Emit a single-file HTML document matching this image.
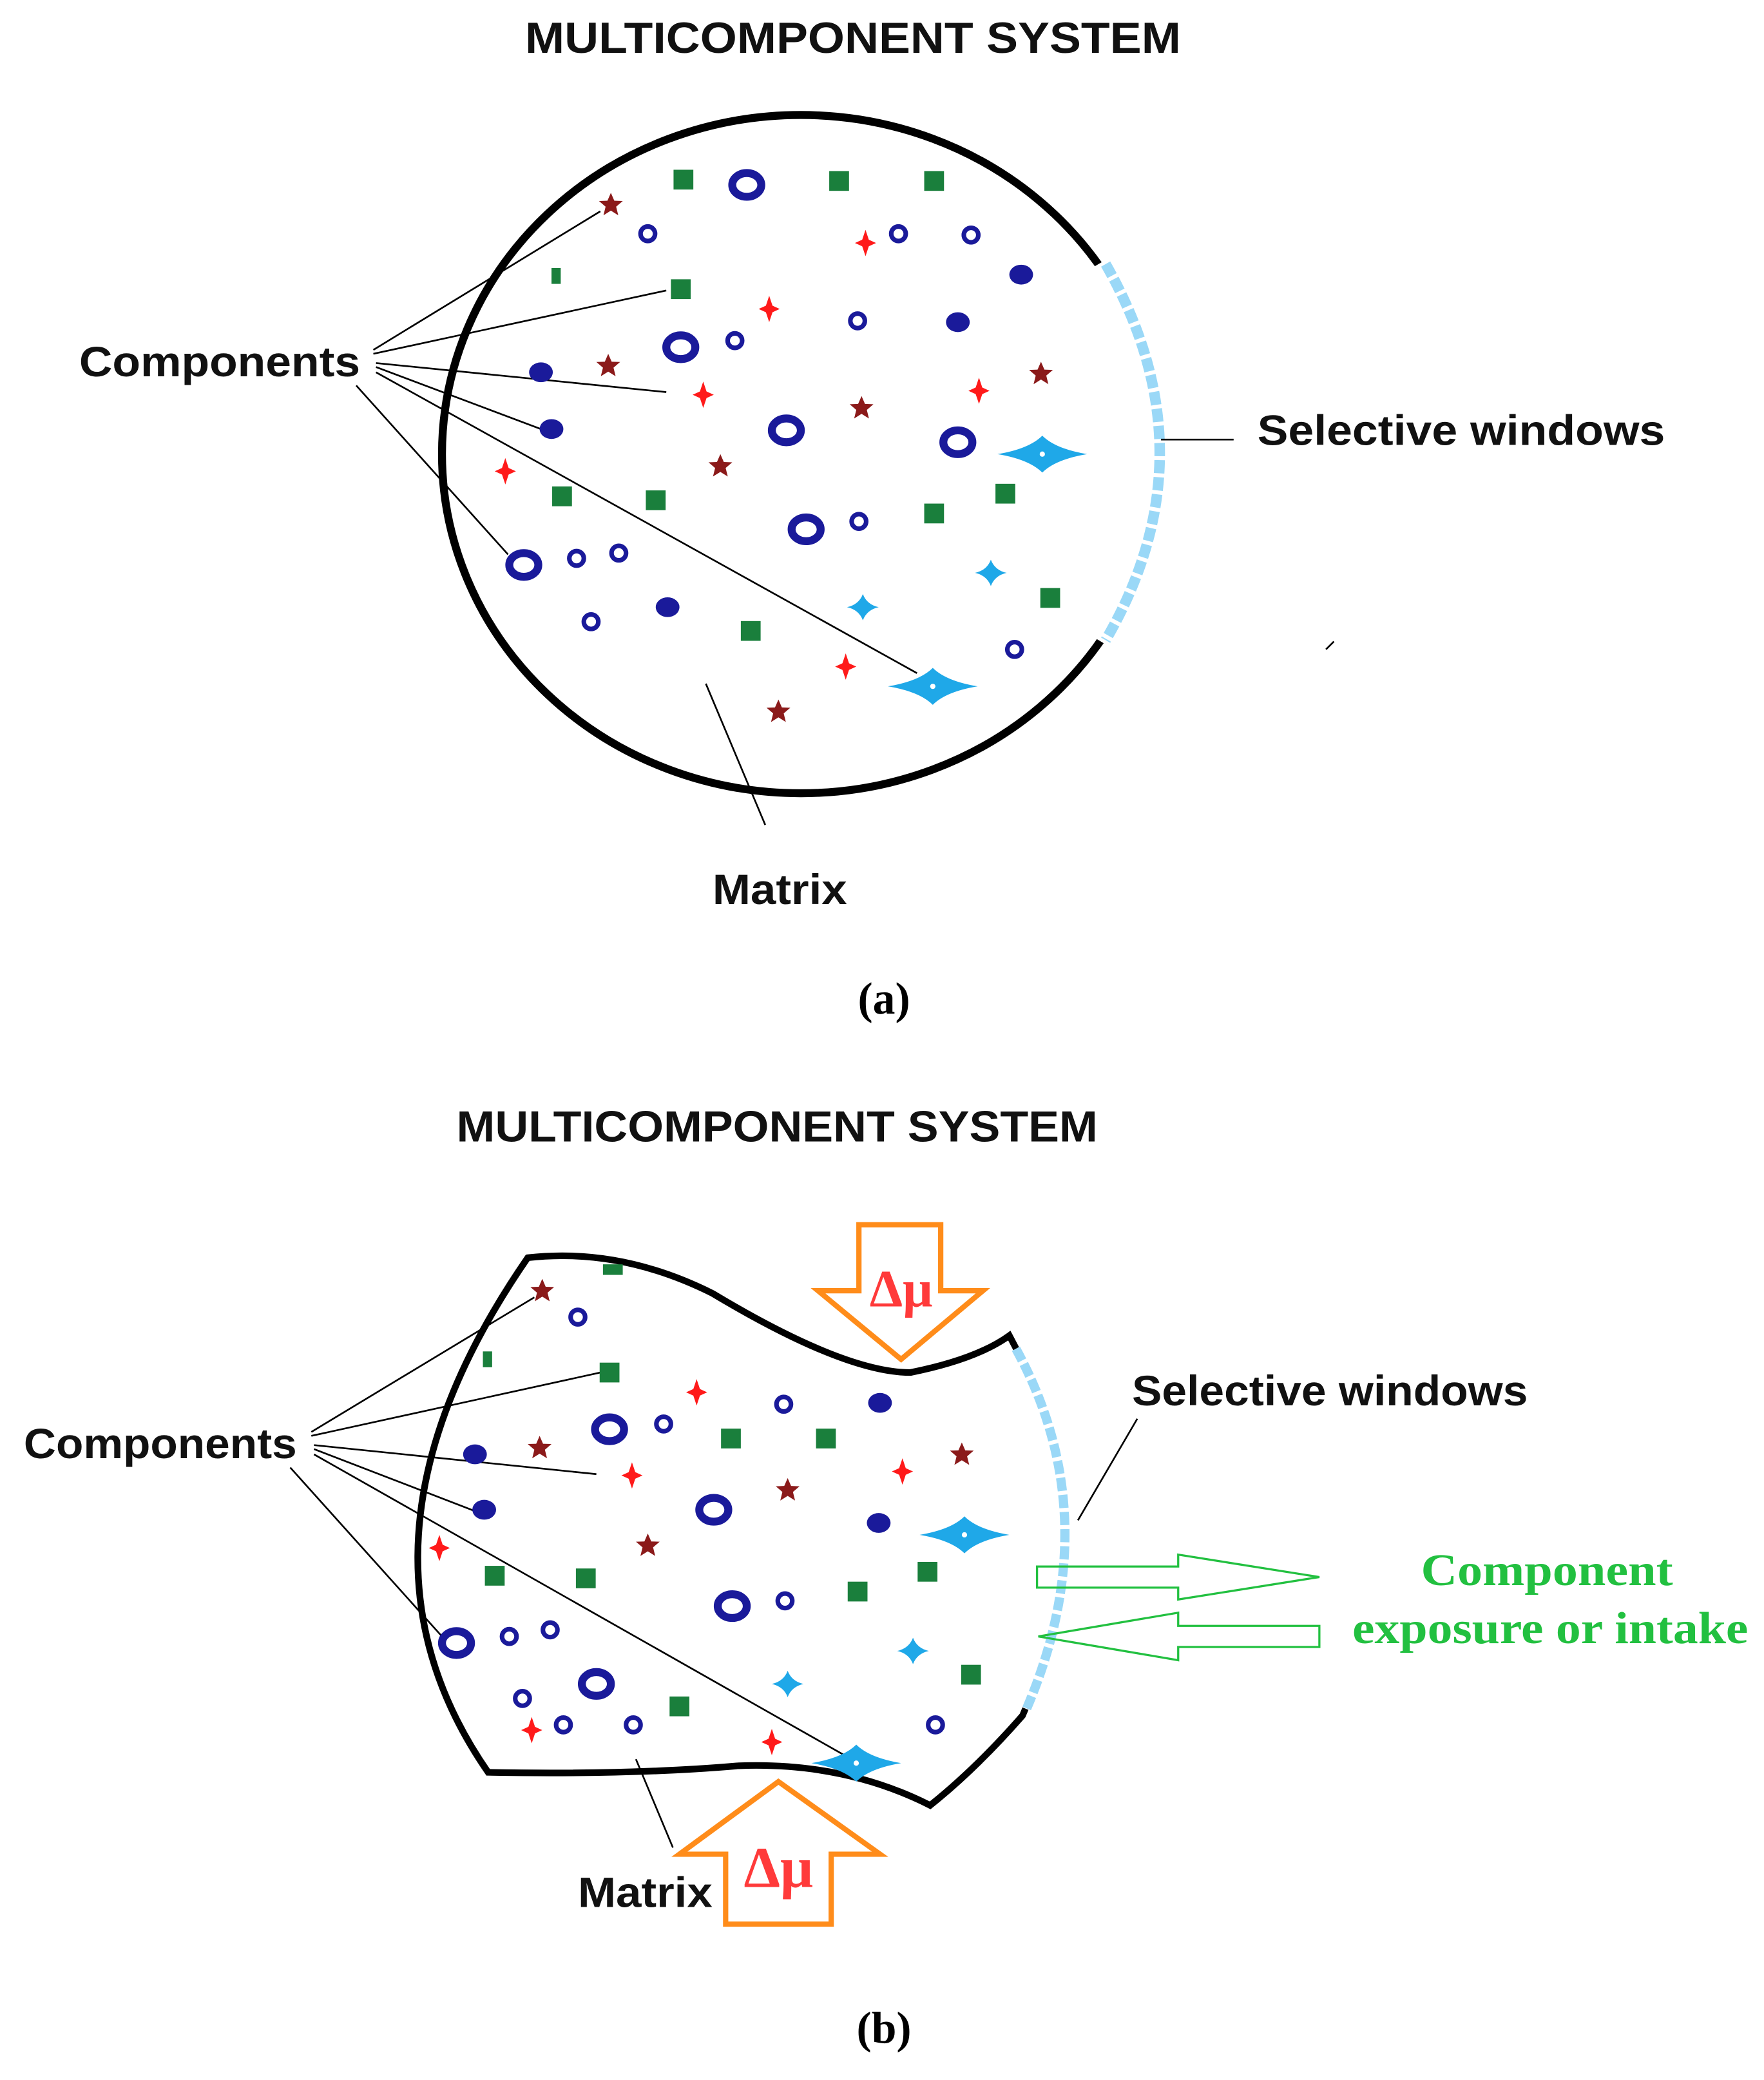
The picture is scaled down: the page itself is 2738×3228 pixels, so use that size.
<!DOCTYPE html>
<html><head><meta charset="utf-8"><style>
html,body{margin:0;padding:0;background:#fff}
svg{display:block}
.t{font-family:"Liberation Sans",sans-serif;font-weight:bold;fill:#111}
.s{font-family:"Liberation Serif",serif;font-weight:bold}
</style></head><body>
<svg width="2738" height="3228" viewBox="0 0 1337 1576" xmlns="http://www.w3.org/2000/svg">
<defs>
<g id="st"><polygon points="0,-9 2.6,-3 9,-2.8 4,1.5 5.6,8 0,4.5 -5.6,8 -4,1.5 -9,-2.8 -2.6,-3" fill="#8b1a1a"/></g>
<g id="rd"><path d="M0,-10 L2.5,-2.5 L8,0 L2.5,2.5 L0,10 L-2.5,2.5 L-8,0 L-2.5,-2.5Z" fill="#ff1a1a"/></g>
<g id="sq"><rect x="-7.5" y="-7.5" width="15" height="15" fill="#1a7f3c"/></g>
<g id="ringb"><ellipse rx="11" ry="9" fill="none" stroke="#1a1a9a" stroke-width="6"/></g>
<g id="dot"><ellipse rx="9" ry="7.5" fill="#1a1a9a"/></g>
<g id="sm"><circle r="5.5" fill="none" stroke="#1a1a9a" stroke-width="3.5"/></g>
<g id="bl"><path d="M-34,0 Q-10,-4 0,-14 Q10,-4 34,0 Q10,4 0,14 Q-10,4 -34,0Z" fill="#1fa8e8"/><circle r="2" fill="#fff"/></g>
<g id="bls"><path d="M-12,0 Q-3,-2 0,-10 Q3,-2 12,0 Q3,2 0,10 Q-3,2 -12,0Z" fill="#1fa8e8"/></g>
</defs>

<!-- (a) -->
<text class="t" x="398" y="40" font-size="33" textLength="497" lengthAdjust="spacingAndGlyphs">MULTICOMPONENT SYSTEM</text>
<ellipse cx="607" cy="344" rx="272" ry="257" fill="none" stroke="#000" stroke-width="6"/>
<path d="M836,198 Q922,344 836,487" fill="none" stroke="#fff" stroke-width="20"/>
<path d="M838,200 Q920,344 838,485" fill="none" stroke="#9ad8f7" stroke-width="8" stroke-dasharray="10,3"/>
<g stroke="#000" stroke-width="1.3" fill="none">
<line x1="283" y1="265" x2="455" y2="160"/><line x1="283" y1="268" x2="505" y2="220"/>
<line x1="285" y1="275" x2="505" y2="297"/><line x1="285" y1="278" x2="410" y2="325"/>
<line x1="285" y1="282" x2="695" y2="510"/><line x1="270" y1="292" x2="385" y2="420"/>
<line x1="535" y1="518" x2="580" y2="625"/><line x1="880" y1="333" x2="935" y2="333"/>
<line x1="1005" y1="492" x2="1011" y2="486"/>
</g>
<text class="t" x="60" y="285" font-size="32" textLength="213" lengthAdjust="spacingAndGlyphs">Components</text>
<text class="t" x="953" y="337" font-size="32" textLength="309" lengthAdjust="spacingAndGlyphs">Selective windows</text>
<text class="t" x="540" y="685" font-size="32" textLength="102" lengthAdjust="spacingAndGlyphs">Matrix</text>
<text class="s" x="670" y="768" font-size="34" text-anchor="middle">(a)</text>
<use href="#st" x="463" y="155"/><use href="#st" x="461" y="277"/><use href="#st" x="653" y="309"/><use href="#st" x="546" y="353"/><use href="#st" x="789" y="283"/><use href="#st" x="590" y="539"/>
<use href="#rd" x="656" y="184"/><use href="#rd" x="583" y="234"/><use href="#rd" x="533" y="299"/><use href="#rd" x="742" y="296"/><use href="#rd" x="383" y="357"/><use href="#rd" x="641" y="505"/>
<use href="#sq" x="518" y="136"/><use href="#sq" x="636" y="137"/><use href="#sq" x="708" y="137"/><use href="#sq" x="516" y="219"/><use href="#sq" x="426" y="376"/><use href="#sq" x="497" y="379"/><use href="#sq" x="708" y="389"/><use href="#sq" x="762" y="374"/><use href="#sq" x="796" y="453"/><use href="#sq" x="569" y="478"/>
<rect x="418" y="203" width="7" height="12" fill="#1a7f3c"/>
<use href="#ringb" x="566" y="140"/><use href="#ringb" x="516" y="263"/><use href="#ringb" x="596" y="326"/><use href="#ringb" x="726" y="335"/><use href="#ringb" x="611" y="401"/><use href="#ringb" x="397" y="428"/>
<use href="#dot" x="774" y="208"/><use href="#dot" x="726" y="244"/><use href="#dot" x="410" y="282"/><use href="#dot" x="418" y="325"/><use href="#dot" x="506" y="460"/>
<use href="#sm" x="491" y="177"/><use href="#sm" x="681" y="177"/><use href="#sm" x="736" y="178"/><use href="#sm" x="650" y="243"/><use href="#sm" x="557" y="258"/><use href="#sm" x="651" y="395"/><use href="#sm" x="437" y="423"/><use href="#sm" x="469" y="419"/><use href="#sm" x="448" y="471"/><use href="#sm" x="769" y="492"/>
<use href="#bl" x="790" y="344"/><use href="#bl" x="707" y="520"/><use href="#bls" x="751" y="434"/><use href="#bls" x="654" y="460"/>

<!-- (b) -->
<text class="t" x="346" y="865" font-size="33" textLength="486" lengthAdjust="spacingAndGlyphs">MULTICOMPONENT SYSTEM</text>
<path d="M400,953 Q470,945 540,980 Q640,1040 690,1040 Q740,1030 765,1012 Q840,1150 775,1300 Q740,1340 705,1368 Q640,1335 560,1338 Q480,1345 370,1343 Q250,1170 400,953Z" fill="none" stroke="#000" stroke-width="5"/>
<path d="M770,1022 Q840,1150 778,1295" fill="none" stroke="#fff" stroke-width="12"/>
<path d="M770,1022 Q840,1150 778,1295" fill="none" stroke="#9ad8f7" stroke-width="7" stroke-dasharray="10,3"/>
<path d="M651,928 H713 V978 H745 L683,1030 L620,978 H651Z" fill="#fff" stroke="#ff8c1a" stroke-width="4"/>
<text class="s" x="683" y="990" font-size="40" fill="#ff3a3a" text-anchor="middle">Δμ</text>
<path d="M590,1350 L667,1405 H630 V1458 H550 V1405 H515Z" fill="#fff" stroke="#ff8c1a" stroke-width="4"/>
<text class="s" x="590" y="1430" font-size="44" fill="#ff3a3a" text-anchor="middle">Δμ</text>
<path d="M786,1187 H893 V1178 L1000,1195 L893,1212 V1203 H786Z" fill="none" stroke="#22c040" stroke-width="1.6"/>
<path d="M1000,1232 H893 V1222 L787,1240 L893,1258 V1248 H1000Z" fill="none" stroke="#22c040" stroke-width="1.6"/>
<text class="s" x="1077" y="1201" font-size="34" fill="#22c040" textLength="191" lengthAdjust="spacingAndGlyphs">Component</text>
<text class="s" x="1025" y="1245" font-size="34" fill="#22c040" textLength="300" lengthAdjust="spacingAndGlyphs">exposure or intake</text>
<g stroke="#000" stroke-width="1.3" fill="none">
<line x1="236" y1="1085" x2="405" y2="983"/><line x1="236" y1="1088" x2="455" y2="1040"/>
<line x1="238" y1="1095" x2="452" y2="1117"/><line x1="238" y1="1098" x2="360" y2="1145"/>
<line x1="238" y1="1102" x2="640" y2="1330"/><line x1="220" y1="1112" x2="335" y2="1240"/>
<line x1="482" y1="1333" x2="510" y2="1400"/><line x1="862" y1="1075" x2="817" y2="1152"/>
</g>
<text class="t" x="18" y="1105" font-size="32" textLength="207" lengthAdjust="spacingAndGlyphs">Components</text>
<text class="t" x="858" y="1065" font-size="32" textLength="300" lengthAdjust="spacingAndGlyphs">Selective windows</text>
<text class="t" x="438" y="1445" font-size="32" textLength="102" lengthAdjust="spacingAndGlyphs">Matrix</text>
<text class="s" x="670" y="1548" font-size="34" text-anchor="middle">(b)</text>
<use href="#st" x="411" y="978"/><use href="#st" x="409" y="1097"/><use href="#st" x="597" y="1129"/><use href="#st" x="491" y="1171"/><use href="#st" x="729" y="1102"/>
<use href="#rd" x="528" y="1055"/><use href="#rd" x="479" y="1118"/><use href="#rd" x="684" y="1115"/><use href="#rd" x="333" y="1173"/><use href="#rd" x="585" y="1320"/><use href="#rd" x="403" y="1311"/>
<use href="#sq" x="462" y="1040"/><use href="#sq" x="554" y="1090"/><use href="#sq" x="626" y="1090"/><use href="#sq" x="375" y="1194"/><use href="#sq" x="444" y="1196"/><use href="#sq" x="650" y="1206"/><use href="#sq" x="703" y="1191"/><use href="#sq" x="736" y="1269"/><use href="#sq" x="515" y="1293"/>
<rect x="366" y="1024" width="7" height="12" fill="#1a7f3c"/><rect x="457" y="958" width="15" height="8" fill="#1a7f3c"/>
<use href="#ringb" x="462" y="1083"/><use href="#ringb" x="541" y="1144"/><use href="#ringb" x="555" y="1217"/><use href="#ringb" x="346" y="1245"/><use href="#ringb" x="452" y="1276"/>
<use href="#dot" x="667" y="1063"/><use href="#dot" x="666" y="1154"/><use href="#dot" x="360" y="1102"/><use href="#dot" x="367" y="1144"/>
<use href="#sm" x="438" y="998"/><use href="#sm" x="503" y="1079"/><use href="#sm" x="594" y="1064"/><use href="#sm" x="595" y="1213"/><use href="#sm" x="386" y="1240"/><use href="#sm" x="417" y="1235"/><use href="#sm" x="396" y="1287"/><use href="#sm" x="427" y="1307"/><use href="#sm" x="480" y="1307"/><use href="#sm" x="709" y="1307"/>
<use href="#bl" x="731" y="1163"/><use href="#bl" x="649" y="1336"/><use href="#bls" x="692" y="1251"/><use href="#bls" x="597" y="1276"/>
</svg>
</body></html>
